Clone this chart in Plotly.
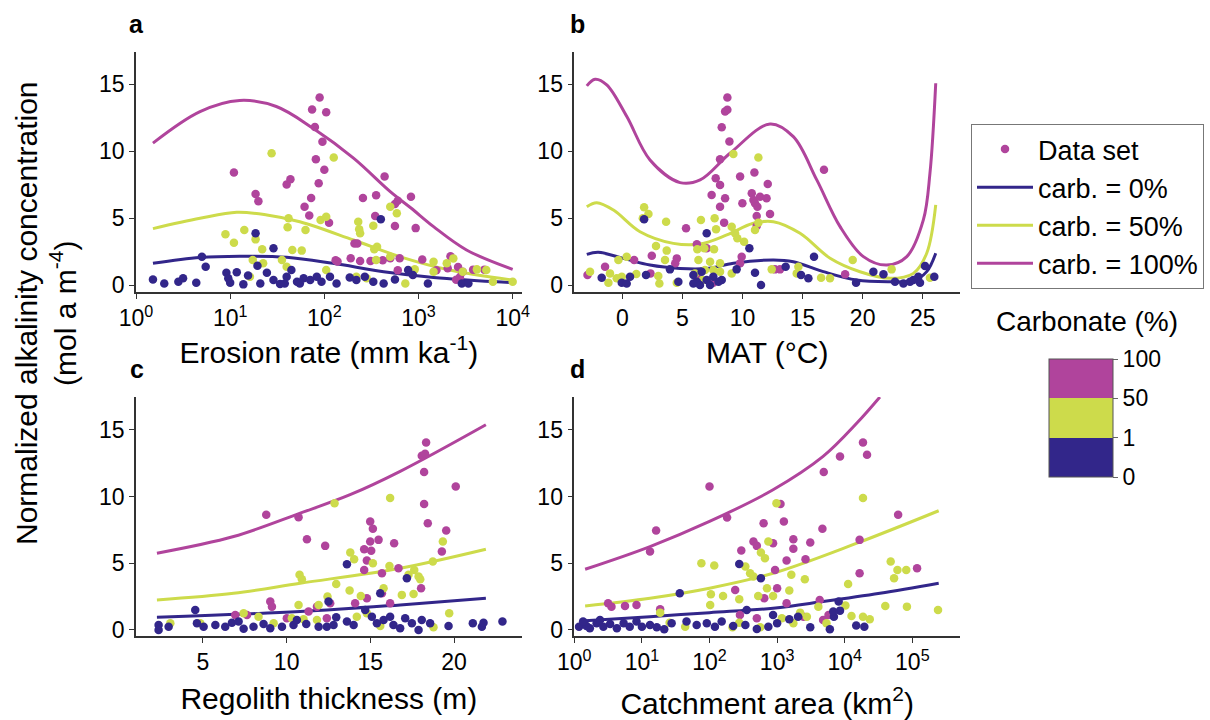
import numpy as np
import plotly.graph_objects as go

FONT = "Liberation Sans, Arial, sans-serif"
NAVY = "#32268A"
LIME = "#CDDB4B"
MAGENTA = "#B0449C"

CARB_TICK_LABELS = ["0", "1", "50", "100"]
LINE_NAMES = ["carb. = 0%", "carb. = 50%", "carb. = 100%"]

# ---------------- panel a: erosion rate (log10 mm/ka), alkalinity ----------------
A_MAGENTA = [(1.95, 14.0), (1.87, 13.1), (2.02, 12.9), (1.90, 11.8), (1.98, 10.7), (1.91, 9.4),
             (2.00, 8.6), (1.04, 8.4), (1.60, 7.5), (1.64, 7.9), (1.94, 7.6), (2.64, 8.1),
             (1.27, 6.8), (1.30, 6.25), (1.86, 6.5), (1.79, 5.85), (1.84, 5.2), (2.41, 6.5),
             (2.55, 6.7), (2.92, 6.6), (2.75, 6.05), (2.78, 6.3), (2.54, 5.15), (2.05, 4.65),
             (2.75, 4.4), (2.97, 4.25), (2.32, 3.1), (2.35, 3.1), (2.28, 2.0), (2.38, 1.8),
             (2.49, 1.8), (2.14, 1.75), (2.70, 2.0), (2.80, 2.0), (3.04, 1.9), (3.34, 2.15),
             (3.19, 1.1), (3.42, 1.35), (3.58, 1.15), (3.70, 1.15), (3.44, 0.6), (3.40, 0.4),
             (2.78, 1.1), (3.31, 1.25), (3.47, 1.0), (2.12, 1.85), (2.62, 1.85)]
A_LIME = [(1.44, 9.84), (2.10, 9.52), (1.96, 4.86), (2.02, 5.1), (2.70, 5.85), (2.77, 5.36),
          (1.62, 4.98), (1.61, 4.31), (1.15, 4.11), (1.80, 4.11), (0.95, 3.79), (1.04, 3.16),
          (1.27, 3.41), (2.36, 4.73), (2.38, 3.86), (2.52, 4.43), (2.56, 2.86), (2.53, 2.67),
          (2.37, 4.16), (1.66, 2.62), (1.76, 2.57), (1.34, 2.67), (1.24, 1.87), (1.35, 1.62),
          (1.55, 1.87), (1.60, 1.37), (2.70, 2.12), (2.55, 1.87), (3.16, 1.74), (3.30, 1.62),
          (3.37, 1.99), (2.96, 1.17), (3.62, 1.17), (3.72, 1.12), (3.79, 0.25), (2.86, 0.12),
          (2.34, 0.62), (2.45, 0.5), (4.00, 0.25), (1.21, 0.62), (2.02, 1.12), (3.47, 1.0),
          (3.16, 1.0)]
A_NAVY = [(2.60, 4.91), (1.27, 3.86), (1.46, 2.74), (0.70, 2.12), (0.74, 1.37), (1.29, 1.44),
          (0.18, 0.42), (0.30, 0.12), (0.45, 0.25), (0.50, 0.5), (0.64, 0.17), (0.96, 0.92),
          (1.00, 0.17), (1.07, 0.95), (1.14, 0.05), (1.19, 0.72), (1.32, 0.12), (1.39, 0.92),
          (1.46, 0.37), (1.53, 0.07), (1.60, 0.62), (1.65, 1.12), (1.71, 0.25), (1.78, 0.5),
          (1.85, 0.37), (1.92, 0.62), (1.97, 0.25), (2.06, 0.62), (2.13, 0.12), (2.27, 0.57),
          (2.34, 0.37), (2.43, 0.62), (2.52, 0.25), (2.63, 0.12), (2.75, 0.42), (2.89, 1.12),
          (2.94, 0.75), (3.10, 0.12), (3.46, 0.12), (3.53, 0.12), (1.74, 0.12), (0.98, 0.5),
          (1.58, 0.12)]
A_CURVE_0 = [(0.18, 1.62), (0.68, 2.05), (1.10, 2.15), (1.60, 2.07), (2.09, 1.62), (2.63, 1.0),
             (3.16, 0.57), (4.00, 0.18)]
A_CURVE_50 = [(0.18, 4.21), (0.68, 4.98), (1.07, 5.43), (1.39, 5.23), (1.74, 4.73), (2.31, 3.36),
              (2.80, 2.12), (3.33, 1.12), (4.00, 0.37)]
A_CURVE_100 = [(0.18, 10.6), (0.68, 12.95), (1.10, 13.78), (1.49, 13.33), (1.88, 11.7),
               (2.31, 9.47), (2.70, 6.97), (2.92, 5.75), (3.16, 4.36), (3.51, 2.62),
               (4.00, 1.17)]

# ---------------- panel b: mean annual temperature (°C), alkalinity ----------------
B_MAGENTA = [(8.74, 14.0), (8.74, 13.08), (8.55, 12.95), (8.27, 11.78), (8.91, 10.71),
             (8.13, 9.39), (7.77, 7.97), (8.13, 7.47), (7.43, 6.73), (8.55, 6.48), (8.13, 5.85),
             (8.47, 4.66), (9.80, 8.1), (10.99, 8.4), (9.99, 6.1), (10.77, 6.85), (10.91, 6.35),
             (11.46, 6.6), (11.04, 6.1), (11.24, 5.85), (12.10, 7.55), (12.0, 6.48),
             (12.29, 5.31), (11.18, 5.16), (11.18, 4.41), (16.78, 8.6), (5.30, 4.24),
             (6.20, 3.04), (2.45, 2.19), (4.53, 1.99), (4.40, 1.62), (0.98, 1.87), (2.34, 0.87),
             (12.70, 1.17), (13.12, 1.17), (9.93, 2.12), (9.80, 1.62), (18.54, 0.8),
             (-2.90, 0.75), (-1.44, 1.37), (7.02, 2.74), (6.46, 0.37), (7.57, 0.17), (6.20, 0.62)]
B_LIME = [(9.24, 9.79), (11.32, 9.52), (1.81, 5.8), (2.17, 5.31), (1.70, 4.98), (3.64, 4.73),
          (6.54, 4.86), (7.68, 4.98), (7.80, 4.16), (9.10, 4.36), (9.38, 3.86), (9.57, 3.49),
          (10.13, 3.24), (11.04, 4.11), (11.32, 4.66), (2.80, 2.91), (3.69, 2.57), (6.24, 2.67),
          (6.82, 2.74), (7.63, 2.67), (6.33, 1.87), (7.30, 1.74), (8.13, 1.62), (3.55, 1.87),
          (-0.33, 1.87), (0.36, 2.12), (-2.69, 1.0), (-1.03, 0.87), (-0.47, 0.5), (-1.16, 0.17),
          (-0.05, 0.62), (1.16, 0.82), (2.99, 0.67), (3.08, 0.12), (4.53, 0.17), (6.04, 0.87),
          (6.68, 0.37), (9.10, 0.87), (12.43, 1.17), (14.51, 0.87), (14.65, 1.37), (16.54, 0.55),
          (17.28, 0.5), (19.17, 1.87), (22.41, 1.17), (25.60, 0.55), (6.88, 1.12), (7.57, 1.12),
          (8.13, 1.0)]
B_NAVY = [(1.81, 4.91), (7.02, 3.86), (10.57, 2.74), (15.95, 2.12), (9.51, 1.17), (11.04, 0.92),
          (11.54, 0.0), (3.96, 1.17), (4.66, 0.25), (-1.72, 0.55), (-0.05, 0.17), (0.36, 0.12),
          (0.64, 0.62), (1.97, 0.75), (5.91, 0.75), (6.20, 0.25), (6.60, 1.0), (7.02, 0.37),
          (7.30, 0.0), (7.57, 0.62), (8.27, 0.37), (5.91, 0.12), (6.46, 0.0), (8.00, 0.25),
          (14.87, 0.75), (15.48, 0.5), (19.45, 0.17), (20.89, 1.0), (21.73, 0.8), (23.39, 0.12),
          (23.94, 0.25), (24.63, 0.62), (25.19, 1.42), (25.96, 0.62), (24.77, 0.17),
          (24.22, 0.37), (22.69, 0.25), (13.59, 1.37)]
B_CURVE_0 = [(-2.96, 2.29), (-2.0, 2.44), (0.08, 1.99), (2.3, 1.49), (4.8, 1.24), (7.02, 1.24),
             (9.24, 1.62), (12.57, 1.87), (14.23, 1.74), (16.73, 1.0), (19.5, 0.37),
             (22.28, 0.25), (24.22, 0.32), (25.33, 1.0), (26.08, 2.37)]
B_CURVE_50 = [(-2.96, 5.85), (-2.13, 6.15), (-0.74, 5.6), (1.47, 3.98), (4.24, 3.11),
              (6.47, 3.06), (8.69, 3.74), (10.9, 4.61), (12.57, 4.73), (14.79, 3.86),
              (17.29, 2.0), (19.78, 0.99), (22.28, 0.5), (24.22, 0.87), (25.33, 2.37),
              (26.08, 5.98)]
B_CURVE_100 = [(-2.96, 14.87), (-2.27, 15.37), (-1.3, 14.95), (0.37, 12.58), (2.3, 9.34),
               (4.8, 7.65), (6.47, 7.85), (8.96, 9.84), (12.29, 12.03), (14.23, 11.08),
               (16.18, 7.85), (18.12, 4.36), (20.06, 2.12), (22.0, 1.49), (23.67, 2.12),
               (25.05, 4.86), (25.6, 8.35), (26.08, 15.07)]

# ---------------- panel c: regolith thickness (m), alkalinity ----------------
C_MAGENTA = [(18.33, 14.05), (18.07, 13.05), (18.27, 13.2), (18.21, 11.83), (20.1, 10.75),
             (8.78, 8.63), (10.71, 8.45), (18.21, 9.43), (18.43, 8.0), (11.21, 6.8),
             (12.3, 6.3), (14.99, 8.13), (15.15, 7.58), (14.63, 6.05), (14.99, 6.63),
             (15.05, 5.93), (15.49, 6.75), (16.42, 6.5), (14.79, 5.2), (14.63, 4.5),
             (15.69, 4.25), (16.68, 4.63), (18.03, 3.13), (19.53, 7.45), (19.27, 5.88),
             (9.02, 2.13), (9.12, 1.75), (10.01, 0.88), (6.93, 1.13), (7.63, 1.13),
             (11.31, 1.38), (11.81, 1.75), (12.6, 2.0), (14.09, 2.0), (14.79, 2.38),
             (15.69, 2.75), (16.18, 2.0), (12.4, 0.88)]
C_LIME = [(12.86, 9.5), (16.18, 9.88), (19.33, 6.63), (13.8, 5.8), (14.03, 5.3), (15.15, 5.0),
          (16.14, 4.8), (10.77, 4.13), (10.91, 3.8), (12.96, 3.45), (13.76, 2.95), (17.88, 4.0),
          (17.98, 3.8), (17.28, 4.13), (17.62, 4.5), (18.73, 5.13), (14.43, 2.55), (15.79, 3.13),
          (16.88, 2.63), (17.58, 2.7), (12.44, 2.5), (10.71, 1.88), (11.91, 1.88), (19.71, 1.25),
          (3.05, 0.5), (4.84, 0.5), (10.31, 0.88), (11.01, 0.8), (11.81, 0.75), (14.19, 1.0),
          (14.79, 1.25), (9.22, 0.5), (15.59, 0.3), (18.77, 0.2), (7.43, 1.25), (8.32, 1.0)]
C_NAVY = [(13.6, 4.93), (17.18, 3.88), (15.59, 2.75), (12.5, 2.13), (4.54, 1.5), (2.35, 0.38),
          (2.35, 0.0), (2.95, 0.25), (4.64, 0.5), (5.04, 0.25), (5.74, 0.38), (6.33, 0.25),
          (6.73, 0.55), (7.13, 0.63), (7.43, 0.1), (8.02, 0.25), (8.62, 0.45), (9.02, 0.13),
          (9.72, 0.25), (10.41, 0.38), (11.17, 0.45), (11.91, 0.25), (12.4, 0.25), (12.96, 0.95),
          (13.6, 0.63), (14.0, 0.38), (14.69, 1.5), (15.09, 1.0), (15.39, 0.5), (15.79, 0.75),
          (16.18, 1.0), (16.38, 0.38), (16.78, 0.13), (17.08, 0.88), (17.48, 0.5), (17.88, 0.0),
          (18.07, 0.75), (18.57, 0.5), (19.67, 0.3), (21.12, 0.5), (21.66, 0.25), (21.76, 0.55),
          (22.89, 0.63), (12.8, 0.38), (10.61, 0.75)]
C_CURVE_0 = [(2.25, 0.95), (10.81, 1.38), (16.78, 1.88), (21.9, 2.38)]
C_CURVE_50 = [(2.25, 2.25), (6.83, 2.75), (10.81, 3.5), (16.78, 4.63), (21.9, 6.05)]
C_CURVE_100 = [(2.25, 5.75), (6.83, 7.0), (10.81, 8.75), (13.79, 10.13), (16.78, 11.88),
               (21.9, 15.37)]

# ---------------- panel d: catchment area (log10 km²), alkalinity ----------------
D_MAGENTA = [(4.27, 14.05), (4.33, 13.13), (3.93, 13.0), (3.69, 11.83), (2.0, 10.75),
             (3.05, 9.43), (2.26, 8.43), (4.79, 8.63), (3.1, 8.13), (2.8, 8.0), (3.67, 7.58),
             (1.21, 7.45), (3.24, 6.8), (3.49, 6.55), (2.65, 6.63), (2.7, 6.3), (2.47, 5.95),
             (2.94, 6.5), (3.24, 6.08), (4.22, 6.75), (1.12, 5.88), (3.14, 5.2), (3.42, 5.3),
             (2.97, 4.5), (4.22, 4.25), (5.07, 4.63), (2.38, 3.0), (3.0, 3.13), (2.81, 2.38),
             (0.5, 2.0), (0.55, 1.75), (0.75, 1.8), (0.92, 1.88), (1.27, 1.55), (3.14, 2.0),
             (3.63, 2.25), (3.76, 1.13), (3.39, 1.0), (2.45, 1.13), (2.7, 0.88), (3.68, 0.75)]
D_LIME = [(2.99, 9.5), (4.27, 9.88), (2.87, 6.63), (2.76, 5.8), (2.82, 5.38), (1.88, 5.0),
          (2.07, 4.83), (2.53, 4.75), (2.6, 4.25), (2.65, 4.0), (4.68, 5.13), (4.78, 4.5),
          (4.91, 4.5), (4.73, 3.88), (3.21, 4.13), (3.41, 3.8), (4.05, 3.45), (3.18, 2.95),
          (2.85, 3.13), (2.72, 2.55), (2.02, 2.68), (2.2, 2.55), (2.44, 2.3), (2.94, 2.55),
          (2.01, 1.88), (4.6, 1.8), (4.92, 1.75), (5.38, 1.5), (4.01, 1.83), (3.61, 1.75),
          (3.34, 1.3), (3.44, 1.0), (4.27, 1.0), (4.37, 0.8), (4.1, 1.05), (1.41, 0.55),
          (1.64, 0.25), (2.34, 0.2), (2.44, 0.55), (2.75, 0.2), (3.07, 0.88), (3.24, 0.5),
          (3.73, 0.5), (1.27, 1.3)]
D_NAVY = [(2.44, 4.95), (2.76, 3.88), (1.56, 2.75), (3.91, 2.13), (3.93, 1.45), (2.94, 1.13),
          (2.55, 1.5), (0.07, 0.25), (0.18, 0.3), (0.23, 0.13), (0.33, 0.5), (0.43, 0.25),
          (0.53, 0.45), (0.63, 0.13), (0.73, 0.5), (0.82, 0.25), (0.92, 0.63), (1.0, 0.25),
          (1.12, 0.38), (1.22, 0.2), (1.33, 0.05), (1.44, 0.5), (1.66, 0.63), (1.81, 0.38),
          (1.96, 0.5), (2.08, 0.25), (2.18, 0.63), (2.35, 0.3), (2.53, 0.38), (2.7, 0.08),
          (2.87, 0.25), (3.0, 0.5), (3.18, 0.8), (3.31, 1.0), (3.49, 0.2), (3.78, 0.05),
          (3.84, 1.0), (4.17, 0.33), (4.29, 0.25), (3.83, 1.38), (0.38, 0.75), (0.13, 0.63)]
D_CURVE_0 = [(0.16, 0.7), (1.12, 1.0), (2.0, 1.3), (2.94, 1.63), (3.68, 2.13), (4.52, 2.75),
             (5.39, 3.5)]
D_CURVE_50 = [(0.16, 1.8), (1.12, 2.38), (2.0, 3.13), (2.94, 4.25), (4.18, 6.5), (5.39, 8.93)]
D_CURVE_100 = [(0.16, 4.55), (1.12, 6.25), (2.0, 8.13), (2.94, 10.5), (3.68, 13.0),
               (4.18, 15.5), (4.52, 17.45)]

# discrete carbonate colour scale: classes 0-1 %, 1-50 %, 50-100 %
COLORSCALE = [[0.0, NAVY], [1 / 3, NAVY], [1 / 3, LIME], [2 / 3, LIME],
              [2 / 3, MAGENTA], [1.0, MAGENTA]]

W, H = 1210, 720


def px_x(p):
    return p / W


def px_y(p):
    return 1 - p / H


PANELS = [
    dict(key="a", pts=(A_MAGENTA, A_LIME, A_NAVY), curves=(A_CURVE_0, A_CURVE_50, A_CURVE_100),
         log=True),
    dict(key="b", pts=(B_MAGENTA, B_LIME, B_NAVY), curves=(B_CURVE_0, B_CURVE_50, B_CURVE_100),
         log=False),
    dict(key="c", pts=(C_MAGENTA, C_LIME, C_NAVY), curves=(C_CURVE_0, C_CURVE_50, C_CURVE_100),
         log=False),
    dict(key="d", pts=(D_MAGENTA, D_LIME, D_NAVY), curves=(D_CURVE_0, D_CURVE_50, D_CURVE_100),
         log=True),
]

fig = go.Figure()

for i, p in enumerate(PANELS):
    ax = "" if i == 0 else str(i + 1)
    xref, yref = "x" + ax, "y" + ax

    def tx(vals):
        vals = np.asarray(vals, dtype=float)
        return 10 ** vals if p["log"] else vals

    # model curves
    for j, (curve, col) in enumerate(zip(p["curves"], (NAVY, LIME, MAGENTA))):
        cx, cy = zip(*curve)
        fig.add_trace(go.Scatter(
            x=tx(cx), y=cy, mode="lines", xaxis=xref, yaxis=yref,
            line=dict(color=col, width=3, shape="spline", smoothing=1.0),
            name=LINE_NAMES[j], legendgroup=LINE_NAMES[j], showlegend=(i == 0),
            legendrank=j + 2, hoverinfo="skip"))

    # observations, coloured by carbonate class
    xs, ys, cs = [], [], []
    for pts, code in zip(p["pts"], (2.5, 1.5, 0.5)):
        px_, py_ = zip(*pts)
        xs += list(px_)
        ys += list(py_)
        cs += [code] * len(pts)
    marker = dict(size=8.5, color=cs, colorscale=COLORSCALE, cmin=0, cmax=3,
                  line=dict(width=0))
    if i == 0:
        marker.update(showscale=True, colorbar=dict(
            x=px_x(1039), xanchor="left", y=px_y(418), yanchor="middle",
            lenmode="pixels", len=138, thicknessmode="pixels", thickness=64,
            tickvals=[0, 1, 2, 3], ticktext=CARB_TICK_LABELS, ticks="outside",
            ticklen=5, tickcolor="#666", outlinecolor="#555", outlinewidth=1,
            tickfont=dict(size=23, color="black", family=FONT)))
    fig.add_trace(go.Scatter(
        x=tx(xs), y=ys, mode="markers", xaxis=xref, yaxis=yref, marker=marker,
        name="Data set", showlegend=(i == 0), legendrank=1, hoverinfo="x+y"))

axis_common = dict(showline=True, linecolor="#333", linewidth=1.5, ticks="outside",
                   ticklen=5, tickwidth=1.2, tickcolor="#333", showgrid=False, zeroline=False,
                   tickfont=dict(size=23, color="black", family=FONT))

X_LEFT, X_MID = (136, 521.7), (574.3, 960)
Y_TOP, Y_BOT = (52, 292), (397, 636)

layout_axes = {
    "xaxis": dict(domain=[px_x(X_LEFT[0]), px_x(X_LEFT[1])], anchor="y", type="log",
                  range=[0, 4.096], tickvals=[1, 10, 100, 1000, 10000],
                  ticktext=["10<sup>0</sup>", "10<sup>1</sup>", "10<sup>2</sup>",
                            "10<sup>3</sup>", "10<sup>4</sup>"],
                  title=dict(text="Erosion rate (mm ka<sup>-1</sup>)", standoff=8)),
    "xaxis2": dict(domain=[px_x(X_MID[0]), px_x(X_MID[1])], anchor="y2",
                   range=[-4.0, 28.1], tickvals=[0, 5, 10, 15, 20, 25],
                   title=dict(text="MAT (°C)", standoff=12)),
    "xaxis3": dict(domain=[px_x(X_LEFT[0]), px_x(X_LEFT[1])], anchor="y3",
                   range=[1.0, 24.04], tickvals=[5, 10, 15, 20],
                   title=dict(text="Regolith thickness (m)", standoff=14)),
    "xaxis4": dict(domain=[px_x(X_MID[0]), px_x(X_MID[1])], anchor="y4", type="log",
                   range=[0, 5.705], tickvals=[1, 10, 100, 1e3, 1e4, 1e5],
                   ticktext=["10<sup>0</sup>", "10<sup>1</sup>", "10<sup>2</sup>",
                             "10<sup>3</sup>", "10<sup>4</sup>", "10<sup>5</sup>"],
                   title=dict(text="Catchment area (km<sup>2</sup>)", standoff=20)),
    "yaxis": dict(domain=[px_y(Y_TOP[1]), px_y(Y_TOP[0])], anchor="x", range=[-0.52, 17.4]),
    "yaxis2": dict(domain=[px_y(Y_TOP[1]), px_y(Y_TOP[0])], anchor="x2", range=[-0.52, 17.4]),
    "yaxis3": dict(domain=[px_y(Y_BOT[1]), px_y(Y_BOT[0])], anchor="x3", range=[-0.45, 17.45]),
    "yaxis4": dict(domain=[px_y(Y_BOT[1]), px_y(Y_BOT[0])], anchor="x4", range=[-0.45, 17.45]),
}
for name, cfg in layout_axes.items():
    cfg.update(axis_common)
    if name.startswith("y"):
        cfg.update(tickvals=[0, 5, 10, 15])
    else:
        cfg["title"]["font"] = dict(size=30, color="black", family=FONT)
    layout_axes[name] = cfg

annotations = [
    dict(text="<b>a</b>", x=px_x(136), y=px_y(24)),
    dict(text="<b>b</b>", x=px_x(577), y=px_y(24)),
    dict(text="<b>c</b>", x=px_x(137), y=px_y(369)),
    dict(text="<b>d</b>", x=px_x(577), y=px_y(369)),
]
for a in annotations:
    a.update(xref="paper", yref="paper", showarrow=False, xanchor="center", yanchor="middle",
             font=dict(size=25, color="black", family=FONT))
annotations += [
    dict(text="Normalized alkalinity concentration<br>(mol a m<sup>-4</sup>)",
         x=px_x(46), y=px_y(313), xref="paper", yref="paper", showarrow=False, textangle=-90,
         xanchor="center", yanchor="middle",
         font=dict(size=30, color="black", family=FONT)),
    dict(text="Carbonate (%)", x=px_x(1087), y=px_y(321), xref="paper", yref="paper",
         showarrow=False, xanchor="center", yanchor="middle",
         font=dict(size=28, color="black", family=FONT)),
]

fig.update_layout(
    width=W, height=H,
    margin=dict(l=0, r=0, t=0, b=0, autoexpand=False),
    paper_bgcolor="white", plot_bgcolor="white",
    font=dict(family=FONT, color="black"),
    legend=dict(x=px_x(971), y=px_y(124), xanchor="left", yanchor="top",
                bordercolor="#777", borderwidth=1, bgcolor="white",
                font=dict(size=27, color="black", family=FONT),
                tracegroupgap=0, itemwidth=56),
    annotations=annotations,
    **layout_axes,
)

fig.write_html("out.html")
